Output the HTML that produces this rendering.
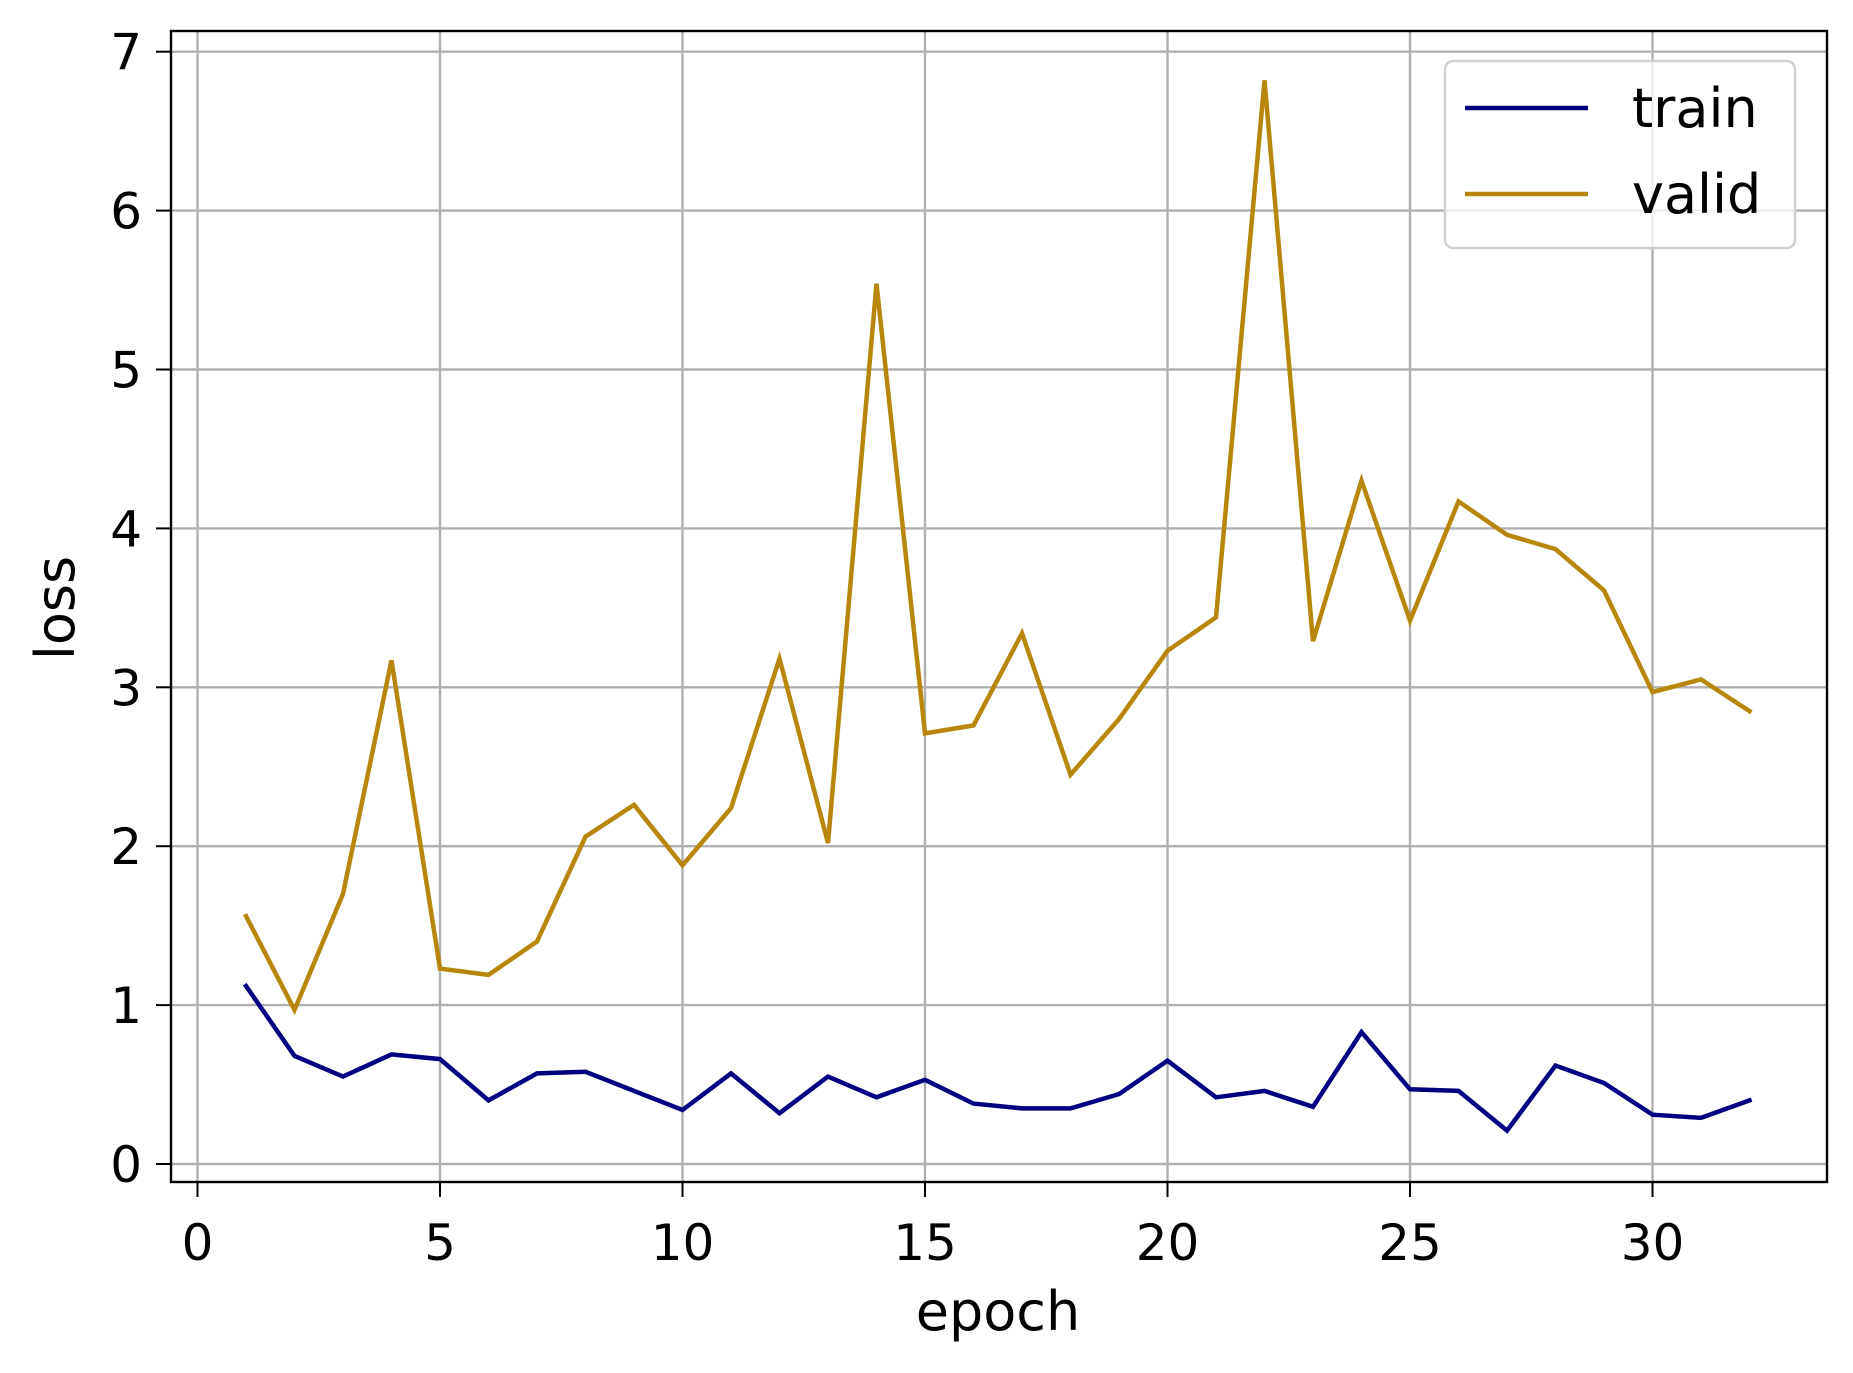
<!DOCTYPE html>
<html><head><meta charset="utf-8"><style>
html,body{margin:0;padding:0;background:#fff;}
svg{display:block;font-family:"DejaVu Sans","Liberation Sans",sans-serif;}
</style></head><body>
<svg id="chart" width="1853" height="1373" viewBox="0 0 1853 1373" xmlns="http://www.w3.org/2000/svg">
<rect x="0" y="0" width="1853" height="1373" fill="#fff"/>
<g id="grid"></g>
<g id="series"></g>
<rect x="171" y="31" width="1656" height="1151" fill="none" stroke="#000" stroke-width="2.4"/>
<g id="ticks"></g>
<text x="998" y="1330" font-size="54" text-anchor="middle">epoch</text>
<text transform="translate(74,608) rotate(-90)" font-size="54" text-anchor="middle">loss</text>
<g>
<rect x="1445" y="61" width="350" height="187" rx="8" fill="#fff" fill-opacity="0.8" stroke="#d0d0d0" stroke-width="2.4"/>
<line x1="1465" y1="108" x2="1588" y2="108" stroke="#000080" stroke-width="4.5"/>
<text x="1632" y="127" font-size="54">train</text>
<line x1="1465" y1="194" x2="1588" y2="194" stroke="#b8860b" stroke-width="4.5"/>
<text x="1632" y="213" font-size="54">valid</text>
</g>
</svg>
<script>
const epochs = [1,2,3,4,5,6,7,8,9,10,11,12,13,14,15,16,17,18,19,20,21,22,23,24,25,26,27,28,29,30,31,32];
const trainLoss = [1.12,0.68,0.55,0.69,0.66,0.40,0.57,0.58,0.46,0.34,0.57,0.32,0.55,0.42,0.53,0.38,0.35,0.35,0.44,0.65,0.42,0.46,0.36,0.83,0.47,0.46,0.21,0.62,0.51,0.31,0.29,0.40];
const validLoss = [1.56,0.97,1.70,3.17,1.23,1.19,1.40,2.06,2.26,1.88,2.24,3.18,2.02,5.54,2.71,2.76,3.34,2.45,2.80,3.23,3.44,6.82,3.29,4.30,3.42,4.17,3.96,3.87,3.61,2.97,3.05,2.85];
const xTicks = [0,5,10,15,20,25,30];
const yTicks = [0,1,2,3,4,5,6,7];

const NS = "http://www.w3.org/2000/svg";
function xs(v){ return 197.5 + v*48.5; }
function ys(v){ return 1164 - v*158.9; }
function mk(tag, attrs, parent){
  const e = document.createElementNS(NS, tag);
  for (const k in attrs) e.setAttribute(k, attrs[k]);
  parent.appendChild(e);
  return e;
}
const grid = document.getElementById('grid');
const ticks = document.getElementById('ticks');
xTicks.forEach(t => {
  const g = mk('line', {x1:xs(t), x2:xs(t), y1:31, y2:1182, stroke:'#b0b0b0', 'stroke-width':2.4}, grid);
  
  
  const tk = mk('line', {x1:xs(t), x2:xs(t), y1:1182, y2:1197, stroke:'#000', 'stroke-width':2}, ticks);
  
  
  const lb = mk('text', {x:xs(t), y:1260, 'font-size':50, 'text-anchor':'middle'}, ticks);
  
  
  lb.textContent = t;
});
yTicks.forEach(t => {
  const g = mk('line', {x1:171, x2:1827, y1:ys(t), y2:ys(t), stroke:'#b0b0b0', 'stroke-width':2.4}, grid);
  
  
  const tk = mk('line', {x1:156, x2:171, y1:ys(t), y2:ys(t), stroke:'#000', 'stroke-width':2}, ticks);
  
  
  const lb = mk('text', {x:142, y:ys(t)+18, 'font-size':50, 'text-anchor':'end'}, ticks);
  
  
  lb.textContent = t;
});
const series = document.getElementById('series');
function drawLine(vals, color, name){
  const pts = vals.map((v,i) => xs(epochs[i]).toFixed(1) + ',' + ys(v).toFixed(1)).join(' ');
  const p = mk('polyline', {points:pts, fill:'none', stroke:color, 'stroke-width':4.5, 'stroke-linejoin':'miter', 'stroke-linecap':'square'}, series);
  
  
}
drawLine(trainLoss, '#000080', 'train-line');
drawLine(validLoss, '#b8860b', 'valid-line');
</script>
</body></html>
